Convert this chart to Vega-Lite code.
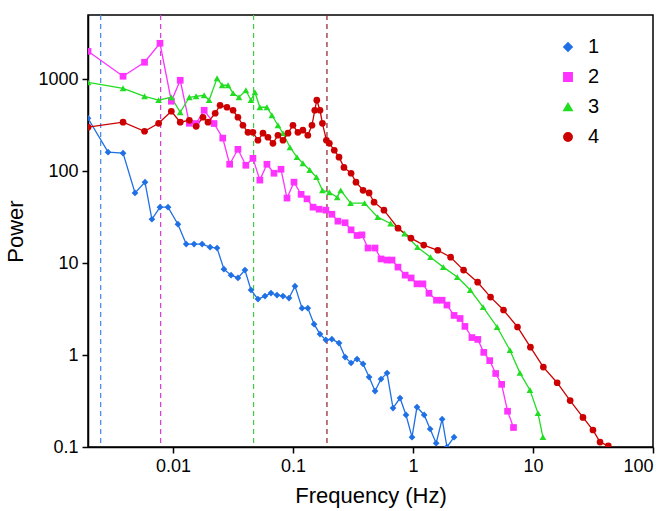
{
  "$schema": "https://vega.github.io/schema/vega-lite/v6.json",
  "width": 565,
  "height": 432,
  "autosize": "none",
  "padding": {"left": 88, "top": 15, "right": 16, "bottom": 64},
  "config": {
    "font": "Liberation Sans",
    "view": {"stroke": "black", "strokeWidth": 1.5},
    "axis": {"domainColor": "black", "domainWidth": 1.5, "ticks": true, "tickColor": "black", "tickWidth": 1.5, "tickSize": 6, "labelFontSize": 18, "labelColor": "black", "titleFontSize": 22, "titleFontWeight": "normal", "titleColor": "black", "grid": false, "labelPadding": 4}
  },
  "datasets": {
    "pts": [
      {"s": "1", "f": 0.00196, "p": 377}, {"s": "1", "f": 0.00288, "p": 161}, {"s": "1", "f": 0.00384, "p": 157}, {"s": "1", "f": 0.00483, "p": 58}, {"s": "1", "f": 0.00585, "p": 76}, {"s": "1", "f": 0.00668, "p": 30}, {"s": "1", "f": 0.0078, "p": 40.6}, {"s": "1", "f": 0.0091, "p": 40.6}, {"s": "1", "f": 0.011, "p": 26.5}, {"s": "1", "f": 0.0129, "p": 16.1}, {"s": "1", "f": 0.015, "p": 16.1}, {"s": "1", "f": 0.0175, "p": 16.1}, {"s": "1", "f": 0.0204, "p": 14.9}, {"s": "1", "f": 0.0233, "p": 14.6}, {"s": "1", "f": 0.0266, "p": 8.6}, {"s": "1", "f": 0.0305, "p": 7.4}, {"s": "1", "f": 0.0348, "p": 6.9}, {"s": "1", "f": 0.0398, "p": 8.4}, {"s": "1", "f": 0.0447, "p": 5.1}, {"s": "1", "f": 0.0511, "p": 4.06}, {"s": "1", "f": 0.0585, "p": 4.38}, {"s": "1", "f": 0.0656, "p": 4.72}, {"s": "1", "f": 0.0736, "p": 4.49}, {"s": "1", "f": 0.0826, "p": 4.38}, {"s": "1", "f": 0.0927, "p": 4.17}, {"s": "1", "f": 0.104, "p": 5.62}, {"s": "1", "f": 0.119, "p": 3.24}, {"s": "1", "f": 0.133, "p": 3.24}, {"s": "1", "f": 0.15, "p": 2.17}, {"s": "1", "f": 0.168, "p": 1.69}, {"s": "1", "f": 0.188, "p": 1.46}, {"s": "1", "f": 0.211, "p": 1.49}, {"s": "1", "f": 0.242, "p": 1.35}, {"s": "1", "f": 0.272, "p": 0.95}, {"s": "1", "f": 0.305, "p": 0.82}, {"s": "1", "f": 0.342, "p": 0.905}, {"s": "1", "f": 0.384, "p": 0.8}, {"s": "1", "f": 0.431, "p": 0.577}, {"s": "1", "f": 0.483, "p": 0.406}, {"s": "1", "f": 0.542, "p": 0.548}, {"s": "1", "f": 0.608, "p": 0.637}, {"s": "1", "f": 0.682, "p": 0.265}, {"s": "1", "f": 0.78, "p": 0.341}, {"s": "1", "f": 0.875, "p": 0.223}, {"s": "1", "f": 0.982, "p": 0.128}, {"s": "1", "f": 1.08, "p": 0.272}, {"s": "1", "f": 1.24, "p": 0.223}, {"s": "1", "f": 1.39, "p": 0.157}, {"s": "1", "f": 1.56, "p": 0.11}, {"s": "1", "f": 1.75, "p": 0.201}, {"s": "1", "f": 1.92, "p": 0.1}, {"s": "1", "f": 2.2, "p": 0.128},

      {"s": "2", "f": 0.00196, "p": 2014}, {"s": "2", "f": 0.00384, "p": 1078}, {"s": "2", "f": 0.0058, "p": 1530}, {"s": "2", "f": 0.0078, "p": 2462}, {"s": "2", "f": 0.0097, "p": 577}, {"s": "2", "f": 0.0115, "p": 975}, {"s": "2", "f": 0.0137, "p": 332}, {"s": "2", "f": 0.0156, "p": 330}, {"s": "2", "f": 0.0182, "p": 460}, {"s": "2", "f": 0.022, "p": 330}, {"s": "2", "f": 0.026, "p": 229}, {"s": "2", "f": 0.0297, "p": 119}, {"s": "2", "f": 0.0348, "p": 173}, {"s": "2", "f": 0.0405, "p": 116}, {"s": "2", "f": 0.0464, "p": 138}, {"s": "2", "f": 0.053, "p": 80}, {"s": "2", "f": 0.0607, "p": 119}, {"s": "2", "f": 0.0695, "p": 95}, {"s": "2", "f": 0.0795, "p": 105}, {"s": "2", "f": 0.0892, "p": 51}, {"s": "2", "f": 0.102, "p": 76}, {"s": "2", "f": 0.117, "p": 56}, {"s": "2", "f": 0.131, "p": 50}, {"s": "2", "f": 0.147, "p": 40.6}, {"s": "2", "f": 0.165, "p": 38.6}, {"s": "2", "f": 0.188, "p": 37.7}, {"s": "2", "f": 0.211, "p": 34}, {"s": "2", "f": 0.237, "p": 28.6}, {"s": "2", "f": 0.272, "p": 27.5}, {"s": "2", "f": 0.305, "p": 23}, {"s": "2", "f": 0.342, "p": 20}, {"s": "2", "f": 0.376, "p": 20.3}, {"s": "2", "f": 0.422, "p": 14.6}, {"s": "2", "f": 0.483, "p": 14.6}, {"s": "2", "f": 0.542, "p": 11.1}, {"s": "2", "f": 0.608, "p": 10.8}, {"s": "2", "f": 0.669, "p": 10.8}, {"s": "2", "f": 0.75, "p": 9.05}, {"s": "2", "f": 0.861, "p": 7.4}, {"s": "2", "f": 0.966, "p": 6.9}, {"s": "2", "f": 1.08, "p": 5.95}, {"s": "2", "f": 1.21, "p": 5.95}, {"s": "2", "f": 1.36, "p": 4.7}, {"s": "2", "f": 1.57, "p": 3.95}, {"s": "2", "f": 1.75, "p": 3.95}, {"s": "2", "f": 1.92, "p": 3.5}, {"s": "2", "f": 2.2, "p": 2.7}, {"s": "2", "f": 2.47, "p": 2.5}, {"s": "2", "f": 2.71, "p": 2.05}, {"s": "2", "f": 3.1, "p": 1.55}, {"s": "2", "f": 3.47, "p": 1.48}, {"s": "2", "f": 3.89, "p": 1.07}, {"s": "2", "f": 4.36, "p": 0.87}, {"s": "2", "f": 4.89, "p": 0.63}, {"s": "2", "f": 5.48, "p": 0.48}, {"s": "2", "f": 6.14, "p": 0.245}, {"s": "2", "f": 6.88, "p": 0.163},

      {"s": "3", "f": 0.00196, "p": 927}, {"s": "3", "f": 0.00384, "p": 798}, {"s": "3", "f": 0.0058, "p": 653}, {"s": "3", "f": 0.0076, "p": 592}, {"s": "3", "f": 0.0097, "p": 637}, {"s": "3", "f": 0.0115, "p": 438}, {"s": "3", "f": 0.0137, "p": 637}, {"s": "3", "f": 0.0156, "p": 653}, {"s": "3", "f": 0.0182, "p": 670}, {"s": "3", "f": 0.02, "p": 592}, {"s": "3", "f": 0.0233, "p": 1025}, {"s": "3", "f": 0.0257, "p": 861}, {"s": "3", "f": 0.0288, "p": 861}, {"s": "3", "f": 0.0317, "p": 705}, {"s": "3", "f": 0.0355, "p": 637}, {"s": "3", "f": 0.0405, "p": 759}, {"s": "3", "f": 0.0447, "p": 592}, {"s": "3", "f": 0.0482, "p": 722}, {"s": "3", "f": 0.053, "p": 496}, {"s": "3", "f": 0.0607, "p": 496}, {"s": "3", "f": 0.0668, "p": 406}, {"s": "3", "f": 0.075, "p": 316}, {"s": "3", "f": 0.0826, "p": 259}, {"s": "3", "f": 0.0944, "p": 182}, {"s": "3", "f": 0.108, "p": 142}, {"s": "3", "f": 0.121, "p": 122}, {"s": "3", "f": 0.138, "p": 103}, {"s": "3", "f": 0.157, "p": 86}, {"s": "3", "f": 0.176, "p": 62}, {"s": "3", "f": 0.201, "p": 59}, {"s": "3", "f": 0.234, "p": 52}, {"s": "3", "f": 0.25, "p": 62}, {"s": "3", "f": 0.302, "p": 45}, {"s": "3", "f": 0.395, "p": 45}, {"s": "3", "f": 0.508, "p": 31.6}, {"s": "3", "f": 0.651, "p": 27}, {"s": "3", "f": 0.851, "p": 21}, {"s": "3", "f": 1.09, "p": 14.9}, {"s": "3", "f": 1.4, "p": 11.6}, {"s": "3", "f": 1.79, "p": 9.05}, {"s": "3", "f": 2.34, "p": 7.05}, {"s": "3", "f": 3.0, "p": 5.1}, {"s": "3", "f": 3.84, "p": 3.33}, {"s": "3", "f": 5.02, "p": 2.02}, {"s": "3", "f": 6.43, "p": 1.13}, {"s": "3", "f": 7.78, "p": 0.64}, {"s": "3", "f": 9.43, "p": 0.417}, {"s": "3", "f": 11.0, "p": 0.234}, {"s": "3", "f": 12.1, "p": 0.128},

      {"s": "4", "f": 0.00196, "p": 301}, {"s": "4", "f": 0.00384, "p": 341}, {"s": "4", "f": 0.0058, "p": 272}, {"s": "4", "f": 0.0076, "p": 332}, {"s": "4", "f": 0.0097, "p": 449}, {"s": "4", "f": 0.0115, "p": 341}, {"s": "4", "f": 0.0137, "p": 358}, {"s": "4", "f": 0.0156, "p": 308}, {"s": "4", "f": 0.0178, "p": 386}, {"s": "4", "f": 0.0196, "p": 341}, {"s": "4", "f": 0.0225, "p": 427}, {"s": "4", "f": 0.0247, "p": 521}, {"s": "4", "f": 0.0282, "p": 496}, {"s": "4", "f": 0.0317, "p": 460}, {"s": "4", "f": 0.0348, "p": 386}, {"s": "4", "f": 0.0383, "p": 316}, {"s": "4", "f": 0.0422, "p": 265}, {"s": "4", "f": 0.0464, "p": 265}, {"s": "4", "f": 0.0511, "p": 217}, {"s": "4", "f": 0.0563, "p": 259}, {"s": "4", "f": 0.0619, "p": 234}, {"s": "4", "f": 0.0681, "p": 201}, {"s": "4", "f": 0.075, "p": 246}, {"s": "4", "f": 0.0826, "p": 217}, {"s": "4", "f": 0.0909, "p": 259}, {"s": "4", "f": 0.1, "p": 316}, {"s": "4", "f": 0.11, "p": 265}, {"s": "4", "f": 0.121, "p": 279}, {"s": "4", "f": 0.133, "p": 246}, {"s": "4", "f": 0.144, "p": 316}, {"s": "4", "f": 0.152, "p": 460}, {"s": "4", "f": 0.158, "p": 592}, {"s": "4", "f": 0.168, "p": 460}, {"s": "4", "f": 0.176, "p": 332}, {"s": "4", "f": 0.19, "p": 217}, {"s": "4", "f": 0.201, "p": 201}, {"s": "4", "f": 0.221, "p": 169}, {"s": "4", "f": 0.242, "p": 142}, {"s": "4", "f": 0.266, "p": 110}, {"s": "4", "f": 0.305, "p": 95}, {"s": "4", "f": 0.335, "p": 76}, {"s": "4", "f": 0.384, "p": 62}, {"s": "4", "f": 0.431, "p": 58}, {"s": "4", "f": 0.474, "p": 46}, {"s": "4", "f": 0.573, "p": 37.7}, {"s": "4", "f": 0.751, "p": 24}, {"s": "4", "f": 0.962, "p": 18.7}, {"s": "4", "f": 1.23, "p": 15.7}, {"s": "4", "f": 1.61, "p": 13.8}, {"s": "4", "f": 2.06, "p": 11.6}, {"s": "4", "f": 2.64, "p": 8.4}, {"s": "4", "f": 3.46, "p": 6.2}, {"s": "4", "f": 4.43, "p": 4.27}, {"s": "4", "f": 5.68, "p": 3.09}, {"s": "4", "f": 7.43, "p": 2.02}, {"s": "4", "f": 9.52, "p": 1.22}, {"s": "4", "f": 12.2, "p": 0.74}, {"s": "4", "f": 15.9, "p": 0.5}, {"s": "4", "f": 20.4, "p": 0.32}, {"s": "4", "f": 26.1, "p": 0.21}, {"s": "4", "f": 31.6, "p": 0.153}, {"s": "4", "f": 36.2, "p": 0.113}, {"s": "4", "f": 42.4, "p": 0.103}
    ],
    "vlines": [
      {"f": 0.0025, "c": "#3F86E8"},
      {"f": 0.0079, "c": "#D63AD6"},
      {"f": 0.047, "c": "#3FCF3F"},
      {"f": 0.192, "c": "#8A1F2A"}
    ]
  },
  "layer": [
    {
      "data": {"name": "vlines"},
      "mark": {"type": "rule", "strokeDash": [5, 4], "strokeWidth": 1.2},
      "encoding": {
        "x": {"field": "f", "type": "quantitative", "scale": {"type": "log", "domain": [0.00196, 100], "nice": false}},
        "stroke": {"field": "c", "type": "nominal", "scale": null, "legend": null}
      }
    },
    {
      "data": {"name": "pts"},
      "mark": {"type": "line", "strokeWidth": 1.3, "clip": true},
      "encoding": {
        "x": {"field": "f", "type": "quantitative"},
        "y": {"field": "p", "type": "quantitative"},
        "color": {"field": "s", "type": "nominal"},
        "order": {"field": "f"}
      }
    },
    {
      "data": {"name": "pts"},
      "mark": {"type": "point", "filled": true, "opacity": 1, "size": 45, "clip": true},
      "encoding": {
        "x": {
          "field": "f", "type": "quantitative", "title": "Frequency (Hz)",
          "scale": {"type": "log", "domain": [0.00196, 100], "nice": false},
          "axis": {"values": [0.01, 0.1, 1, 10, 100], "labelExpr": "datum.value", "titlePadding": 10}
        },
        "y": {
          "field": "p", "type": "quantitative", "title": "Power",
          "scale": {"type": "log", "domain": [0.1, 5000], "nice": false},
          "axis": {"values": [0.1, 1, 10, 100, 1000], "labelExpr": "datum.value", "titlePadding": 10}
        },
        "color": {
          "field": "s", "type": "nominal", "title": null,
          "scale": {"domain": ["1", "2", "3", "4"], "range": ["#1F6FE5", "#FF33FF", "#22DD22", "#CC0000"]},
          "legend": {"orient": "none", "legendX": 470, "legendY": 22, "labelFontSize": 20, "labelColor": "black", "symbolSize": 70, "rowPadding": 10, "labelOffset": 10}
        },
        "shape": {
          "field": "s", "type": "nominal", "title": null,
          "scale": {"domain": ["1", "2", "3", "4"], "range": ["diamond", "square", "triangle-up", "circle"]}
        }
      }
    }
  ]
}
